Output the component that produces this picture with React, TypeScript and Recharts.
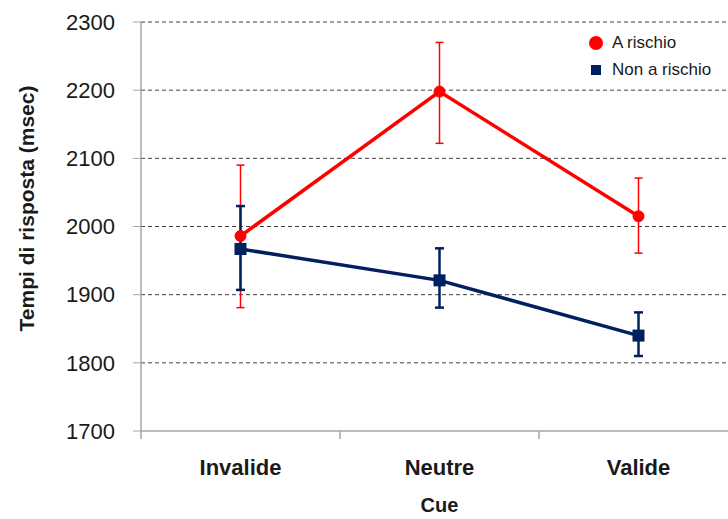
import { LineChart, Line, XAxis, YAxis, CartesianGrid, ErrorBar, Legend } from "recharts";

// reaction times by cue type, mean with lower/upper error limits
const cues = ["Invalide", "Neutre", "Valide"];
const cuePos = [0.5, 1.5, 2.5];

const aRischio = [1986, 2198, 2015];
const aRischioLow = [1881, 2122, 1961];
const aRischioHigh = [2090, 2270, 2071];

const nonARischio = [1967, 1921, 1840];
const nonARischioLow = [1907, 1881, 1810];
const nonARischioHigh = [2030, 1968, 1874];

const yTicks = [1700, 1800, 1900, 2000, 2100, 2200, 2300];
const xTicks = [0, 0.5, 1, 1.5, 2, 2.5, 3];

const RED = "#ff0000";
const NAVY = "#002060";
const AXIS = "#a6a6a6";
const TEXT = "#1a1a1a";

const data = cues.map((cue, i) => ({
  cue,
  pos: cuePos[i],
  aRischio: aRischio[i],
  aRischioErr: [aRischio[i] - aRischioLow[i], aRischioHigh[i] - aRischio[i]],
  nonARischio: nonARischio[i],
  nonARischioErr: [nonARischio[i] - nonARischioLow[i], nonARischioHigh[i] - nonARischio[i]],
}));

// integer positions get a tick mark (category borders), half positions get the name
function CueTick({ x, y, payload }: any) {
  const v = payload.value;
  if (Number.isInteger(v)) {
    return <line x1={x} x2={x} y1={y} y2={y + 8} stroke={AXIS} strokeWidth={1.5} />;
  }
  return (
    <text
      x={x}
      y={y + 36}
      textAnchor="middle"
      dominantBaseline="central"
      fontFamily="'Liberation Sans', sans-serif"
      fontWeight="bold"
      fontSize={22}
      fill={TEXT}
    >
      {cues[cuePos.indexOf(v)]}
    </text>
  );
}

function YTitle({ viewBox }: any) {
  const cx = 34;
  const cy = viewBox.y + viewBox.height / 2 - 18;
  return (
    <text
      x={cx}
      y={cy}
      transform={`rotate(-90, ${cx}, ${cy})`}
      textAnchor="middle"
      fontFamily="'Liberation Sans', sans-serif"
      fontWeight="bold"
      fontSize={21}
      fill={TEXT}
    >
      Tempi di risposta (msec)
    </text>
  );
}

const SquareDot = ({ cx, cy, index }: any) => (
  <rect key={`sq-${index}`} x={cx - 6} y={cy - 6} width={12} height={12} fill={NAVY} />
);

function LegendBox() {
  const row = { display: "flex", alignItems: "center", height: 27 } as const;
  const label = {
    fontFamily: "'Liberation Sans', sans-serif",
    fontSize: 17,
    color: TEXT,
    marginLeft: 8,
  };
  return (
    <div>
      <div style={row}>
        <svg width={16} height={16}>
          <circle cx={8} cy={8} r={7} fill={RED} />
        </svg>
        <span style={label}>A rischio</span>
      </div>
      <div style={row}>
        <svg width={16} height={16}>
          <rect x={3} y={3} width={10} height={10} fill={NAVY} />
        </svg>
        <span style={label}>Non a rischio</span>
      </div>
    </div>
  );
}

export default function App() {
  return (
    <div
      style={{
        position: "absolute",
        left: 0,
        top: 0,
        width: 728,
        height: 519,
        overflow: "hidden",
        background: "#fff",
      }}
    >
      <LineChart
        width={740}
        height={519}
        data={data}
        margin={{ top: 22, right: 2, bottom: 0, left: 0 }}
      >
        <CartesianGrid
          vertical={false}
          horizontalValues={[1800, 1900, 2000, 2100, 2200, 2300]}
          stroke="#404040"
          strokeDasharray="4 3"
        />
        <XAxis
          type="number"
          dataKey="pos"
          domain={[0, 3]}
          ticks={xTicks}
          interval={0}
          height={88}
          tickSize={0}
          tickMargin={0}
          tickLine={false}
          axisLine={{ stroke: AXIS, strokeWidth: 1.5 }}
          tick={<CueTick />}
          label={{
            value: "Cue",
            position: "insideBottom",
            offset: 7,
            fontFamily: "'Liberation Sans', sans-serif",
            fontWeight: "bold",
            fontSize: 20,
            fill: TEXT,
          }}
        />
        <YAxis
          domain={[1700, 2300]}
          ticks={yTicks}
          interval={0}
          width={141}
          tickSize={8}
          tickMargin={18}
          axisLine={{ stroke: AXIS, strokeWidth: 1.5 }}
          tickLine={{ stroke: AXIS }}
          tick={{ fill: TEXT, fontSize: 22, fontFamily: "'Liberation Sans', sans-serif" }}
          label={<YTitle />}
        />
        <Legend
          layout="horizontal"
          verticalAlign="middle"
          align="center"
          content={() => <LegendBox />}
          wrapperStyle={{ left: 588, top: 29, width: 150 }}
        />
        <Line
          dataKey="aRischio"
          stroke={RED}
          strokeWidth={3.5}
          dot={{ r: 5.5, fill: RED, stroke: RED, strokeWidth: 1 }}
          activeDot={false}
          isAnimationActive={false}
        >
          <ErrorBar dataKey="aRischioErr" direction="y" width={4} stroke={RED} strokeWidth={1.5} />
        </Line>
        <Line
          dataKey="nonARischio"
          stroke={NAVY}
          strokeWidth={3.5}
          dot={SquareDot}
          activeDot={false}
          isAnimationActive={false}
        >
          <ErrorBar dataKey="nonARischioErr" direction="y" width={4.5} stroke={NAVY} strokeWidth={2.5} />
        </Line>
      </LineChart>
    </div>
  );
}
